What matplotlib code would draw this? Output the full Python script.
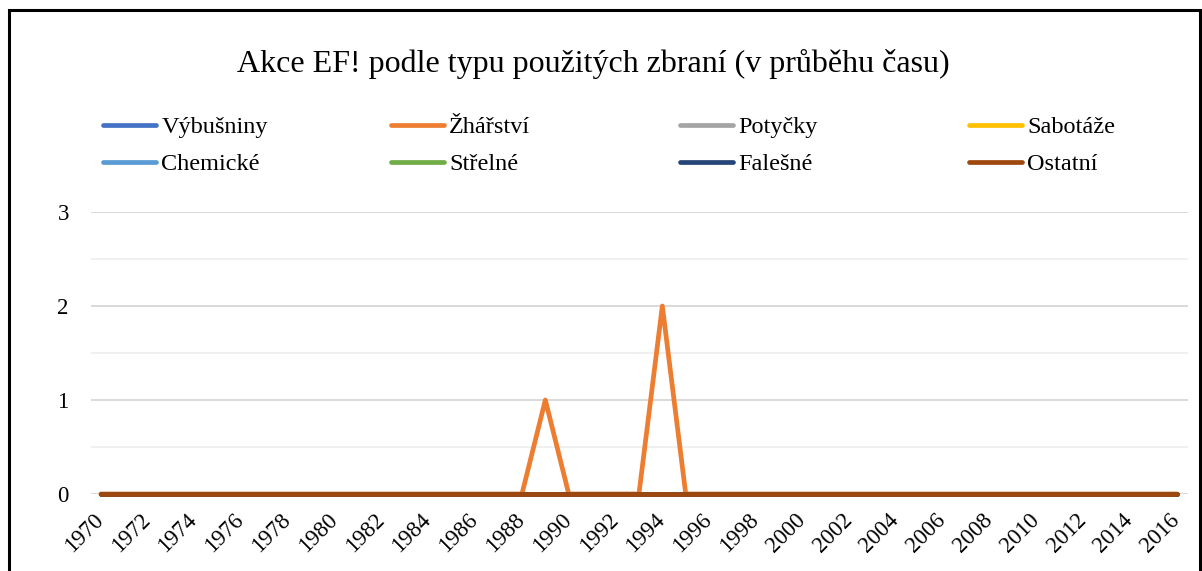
import matplotlib
matplotlib.use("Agg")
import matplotlib.pyplot as plt
from matplotlib.patches import Rectangle
from matplotlib.ticker import MultipleLocator
from matplotlib.transforms import ScaledTranslation

plt.rcParams['font.family'] = ['Liberation Serif', 'DejaVu Serif']

years = list(range(1970, 2017))
series_names = ["Výbušniny", "Žhářství", "Potyčky", "Sabotáže",
                "Chemické", "Střelné", "Falešné", "Ostatní"]
colors = ["#4472C4", "#ED7D31", "#A5A5A5", "#FFC000",
          "#5B9BD5", "#70AD47", "#264478", "#9E480E"]

zeros = [0] * len(years)
zharstvi = [0] * len(years)
zharstvi[years.index(1989)] = 1
zharstvi[years.index(1994)] = 2

values = {
    "Výbušniny": zeros,
    "Žhářství": zharstvi,
    "Potyčky": zeros,
    "Sabotáže": zeros,
    "Chemické": zeros,
    "Střelné": zeros,
    "Falešné": zeros,
    "Ostatní": zeros,
}

fig = plt.figure(figsize=(12.02, 5.71), dpi=100)
ax = fig.add_axes([0.0757, 0.1349, 0.9127, 0.4938])

lines = []
for name, col in zip(series_names, colors):
    ln, = ax.plot(years, values[name], color=col, lw=3.4, solid_capstyle='round',
                  label=name, zorder=3, clip_on=False)
    lines.append(ln)

ax.set_xlim(1970 - 0.42, 2016 + 0.47)
ax.set_ylim(0, 3)
ax.xaxis.set_major_locator(MultipleLocator(2))
ax.yaxis.set_major_locator(MultipleLocator(1))
ax.yaxis.set_minor_locator(MultipleLocator(0.5))
ax.grid(axis='y', which='major', color='#d9d9d9', lw=1.4, zorder=0)
ax.grid(axis='y', which='minor', color='#f0f0f0', lw=1.4, zorder=0)
for s in ax.spines.values():
    s.set_visible(False)
ax.tick_params(which='both', length=0)
ax.tick_params(axis='y', labelsize=16.5, pad=16)
ax.tick_params(axis='x', labelsize=16.5, pad=3)
shift = ScaledTranslation(-8 / 100, -11 / 100, fig.dpi_scale_trans)
for lab in ax.get_xticklabels():
    lab.set_rotation(45)
    lab.set_ha('right')
    lab.set_va('top')
    lab.set_rotation_mode('anchor')
    lab.set_transform(lab.get_transform() + shift)

fig.text(0.4935, 0.888, "Akce EF! podle typu použitých zbraní (v průběhu času)",
         ha='center', va='center', fontsize=23)

col_x = [103 / 1202, 391 / 1202, 680 / 1202, 969 / 1202]
for i in range(4):
    leg = fig.legend(handles=[lines[i], lines[i + 4]], loc='upper left',
                     bbox_to_anchor=(col_x[i], 1 - 116 / 571), frameon=False,
                     fontsize=17.5, handlelength=2.2, handletextpad=0.2,
                     labelspacing=0.62, borderaxespad=0, borderpad=0)

fig.patches.append(Rectangle((9 / 1202, -0.1), 1191 / 1202, 1.1 - 10 / 571,
                             transform=fig.transFigure, fill=False,
                             edgecolor='black', lw=2.2))

fig.savefig("out.png", dpi=100)
